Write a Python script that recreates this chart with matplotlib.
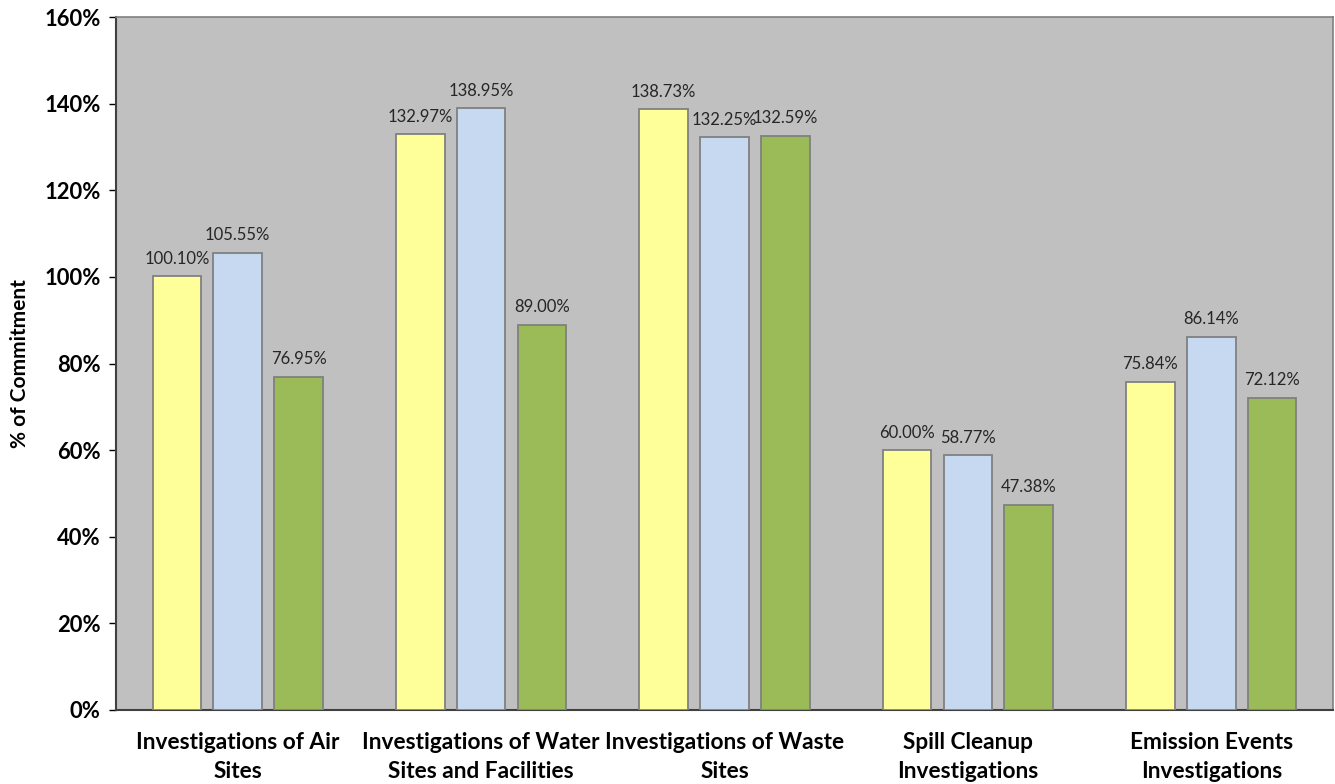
import matplotlib
matplotlib.use("Agg")
import matplotlib.pyplot as plt
import numpy as np
from matplotlib.ticker import FuncFormatter, MultipleLocator

categories = ["Investigations of Air\nSites",
              "Investigations of Water\nSites and Facilities",
              "Investigations of Waste\nSites",
              "Spill Cleanup\nInvestigations",
              "Emission Events\nInvestigations"]
series_yellow = [100.10, 132.97, 138.73, 60.00, 75.84]
series_blue = [105.55, 138.95, 132.25, 58.77, 86.14]
series_green = [76.95, 89.00, 132.59, 47.38, 72.12]
colors = ["#FFFF99", "#C6D9F1", "#9BBB59"]

plt.rcParams['font.family'] = ['Lato', 'DejaVu Sans']

fig = plt.figure(figsize=(13.35, 7.84), dpi=100)
ax = fig.add_axes([116/1335, 74/784, 1217/1335, 693/784])
ax.set_facecolor("#C0C0C0")

x = np.arange(len(categories))
w = 0.2
step = 0.25
for i, (vals, c) in enumerate(zip([series_yellow, series_blue, series_green], colors)):
    pos = x + (i - 1) * step
    bars = ax.bar(pos, vals, width=w, color=c, edgecolor="#808080", linewidth=1.3, zorder=3)
    for b, v in zip(bars, vals):
        ax.text(b.get_x() + b.get_width() / 2, v + 2.2, f"{v:.2f}%",
                ha="center", va="bottom", fontsize=12, color="#262626", zorder=4)

ax.set_xlim(-0.5, 4.5)
ax.set_ylim(0, 160)
ax.yaxis.set_major_locator(MultipleLocator(20))
ax.yaxis.set_major_formatter(FuncFormatter(lambda v, p: f"{int(v)}%"))
ax.set_xticks(x)
ax.set_xticklabels(categories, fontsize=16.3, fontweight="bold", linespacing=1.45)
ax.tick_params(axis="x", length=0, pad=16)
ax.tick_params(axis="y", length=5, width=1, labelsize=15.8, pad=6)
for lab in ax.get_yticklabels():
    lab.set_fontweight("bold")
ax.set_ylabel("% of Commitment", fontsize=15, fontweight="bold", labelpad=10)

for side in ["left", "bottom"]:
    ax.spines[side].set_color("#404040")
    ax.spines[side].set_linewidth(1.5)
for side in ["top", "right"]:
    ax.spines[side].set_color("#808080")
    ax.spines[side].set_linewidth(1.2)

fig.savefig("out.png", dpi=100)
